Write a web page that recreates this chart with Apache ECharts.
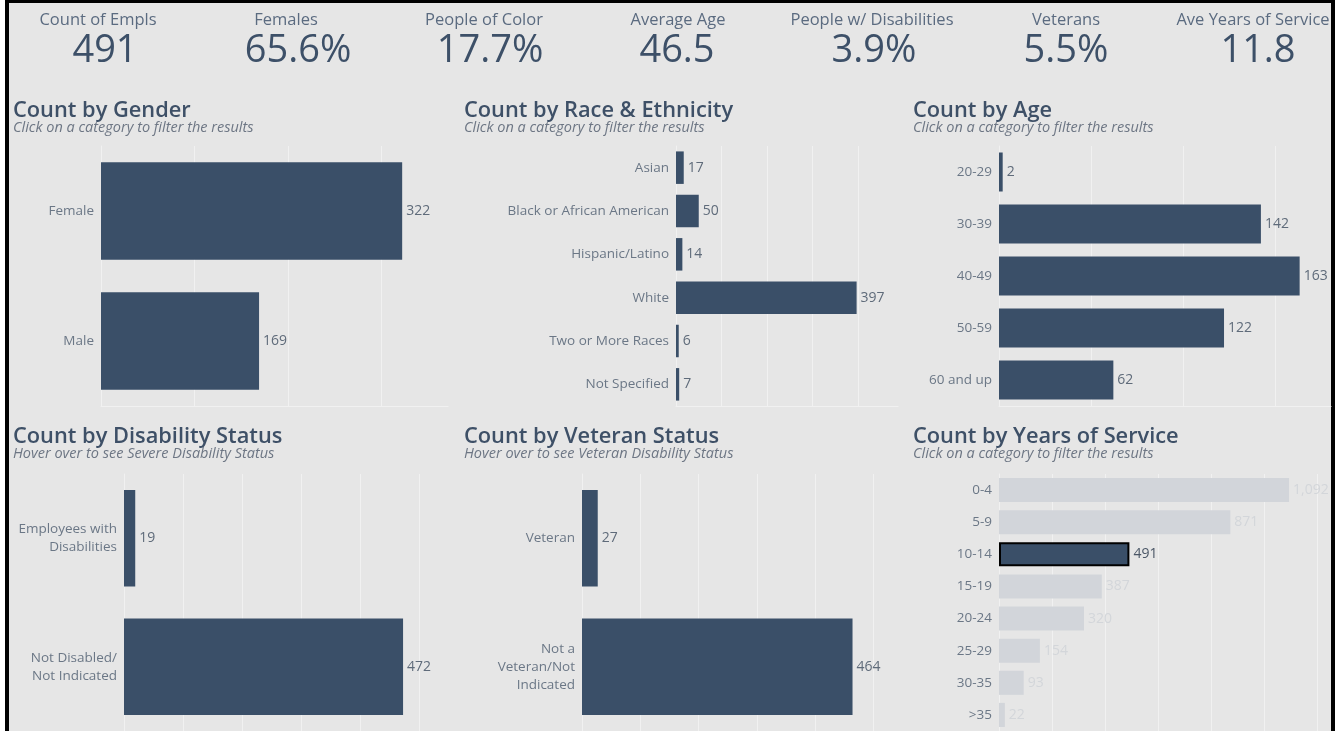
<!DOCTYPE html>
<html>
<head>
<meta charset="utf-8">
<script src="https://cdn.jsdelivr.net/npm/echarts@6/dist/echarts.min.js"></script>
<style>
  body { margin: 0; background: #fff; }
  #frame { position: absolute; left: 5px; top: -1px; width: 1322px; height: 800px; border: 4px solid #000; background: #e6e6e6; }
  #main { position: absolute; left: 0; top: 0; width: 1340px; height: 731px; }
</style>
</head>
<body>
<div id="frame"></div>
<div id="main"></div>
<script>
// KPI strip
const kpiLabels = ['Count of Empls', 'Females', 'People of Color', 'Average Age', 'People w/ Disabilities', 'Veterans', 'Ave Years of Service'];
const kpiValues = ['491', '65.6%', '17.7%', '46.5', '3.9%', '5.5%', '11.8'];

// panel data
const genderCats = ['Female', 'Male'];
const genderVals = [322, 169];
const raceCats = ['Asian', 'Black or African American', 'Hispanic/Latino', 'White', 'Two or More Races', 'Not Specified'];
const raceVals = [17, 50, 14, 397, 6, 7];
const ageCats = ['20-29', '30-39', '40-49', '50-59', '60 and up'];
const ageVals = [2, 142, 163, 122, 62];
const disCats = ['Employees with\nDisabilities', 'Not Disabled/\nNot Indicated'];
const disVals = [19, 472];
const vetCats = ['Veteran', 'Not a\nVeteran/Not\nIndicated'];
const vetVals = [27, 464];
const yosCats = ['0-4', '5-9', '10-14', '15-19', '20-24', '25-29', '30-35', '>35'];
const yosVals = [1092, 871, 491, 387, 320, 154, 93, 22];
const yosSelected = '10-14';

const font = '"Open Sans", sans-serif';
const barColor = '#3a4f68';
const gridColor = '#f1f1f1';
const labelColor = '#6b7786';
const clickSub = 'Click on a category to filter the results';

// where the KPI texts sit (centres)
const kpiLabelX = [98, 286, 484, 678, 872, 1066, 1253];
const kpiValueX = [105, 298, 490, 677, 874, 1066, 1258];

const panels = [
  { title: 'Count by Gender', sub: clickSub, tx: 13, ty: 111, cats: genderCats, vals: genderVals, left: 101, right: 448, top: 146, height: 260, max: 371, interval: 100 },
  { title: 'Count by Race & Ethnicity', sub: clickSub, tx: 464, ty: 111, cats: raceCats, vals: raceVals, left: 676, right: 898, top: 146, height: 260, max: 488, interval: 100 },
  { title: 'Count by Age', sub: clickSub, tx: 913, ty: 111, cats: ageCats, vals: ageVals, left: 999, right: 1331, top: 146, height: 260, max: 180, interval: 50 },
  { title: 'Count by Disability Status', sub: 'Hover over to see Severe Disability Status', tx: 13, ty: 437, cats: disCats, vals: disVals, left: 124, right: 448, top: 474, height: 261, max: 548, interval: 100 },
  { title: 'Count by Veteran Status', sub: 'Hover over to see Veteran Disability Status', tx: 464, ty: 437, cats: vetCats, vals: vetVals, left: 582, right: 898, top: 474, height: 261, max: 542, interval: 100 },
  { title: 'Count by Years of Service', sub: clickSub, tx: 913, ty: 437, cats: yosCats, vals: yosVals, left: 999, right: 1331, top: 474, height: 261, max: 1250, interval: 200, highlight: yosSelected }
];

const chart = echarts.init(document.getElementById('main'), null, { renderer: 'canvas' });

let graphic = [];
kpiLabels.forEach((name, i) => {
  graphic.push({ type: 'text', x: kpiLabelX[i], y: 20, style: { text: name, font: '16.5px ' + font, fill: '#5b6b80', textAlign: 'center', textVerticalAlign: 'middle' } });
  graphic.push({ type: 'text', x: kpiValueX[i], y: 51, style: { text: kpiValues[i], font: '38px ' + font, fill: '#3d5068', textAlign: 'center', textVerticalAlign: 'middle' } });
});

let grid = [], xAxis = [], yAxis = [], series = [];
panels.forEach((p, i) => {
  graphic.push({ type: 'text', x: p.tx, y: p.ty, style: { text: p.title, font: '600 21.8px ' + font, fill: '#3e5067', textVerticalAlign: 'middle' } });
  graphic.push({ type: 'text', x: p.tx, y: p.ty + 17, style: { text: p.sub, font: 'italic 14.5px ' + font, fill: '#6d7684', textVerticalAlign: 'middle' } });

  grid.push({ left: p.left, width: p.right - p.left, top: p.top, height: p.height });
  xAxis.push({
    type: 'value', gridIndex: i, min: 0, max: p.max, interval: p.interval,
    axisLabel: { show: false }, axisTick: { show: false },
    axisLine: { show: true, lineStyle: { color: gridColor } },
    splitLine: { show: true, showMinLine: false, showMaxLine: false, lineStyle: { color: gridColor } }
  });
  yAxis.push({
    type: 'category', gridIndex: i, inverse: true, data: p.cats,
    axisTick: { show: false },
    axisLine: { show: true, lineStyle: { color: gridColor } },
    axisLabel: { color: labelColor, fontFamily: font, fontSize: 13.5, margin: 7, lineHeight: 18 }
  });

  const data = p.vals.map((v, k) => {
    if (!p.highlight) return v;
    if (p.cats[k] === p.highlight) {
      return { value: v, itemStyle: { color: barColor, borderColor: '#000', borderWidth: 2 }, label: { color: '#4a5666' } };
    }
    return { value: v, itemStyle: { color: '#d2d5da' }, label: { color: '#d3d6da' } };
  });

  series.push({
    type: 'bar', xAxisIndex: i, yAxisIndex: i, data: data,
    barCategoryGap: '25%',
    itemStyle: { color: barColor },
    label: {
      show: true, position: 'right', distance: 4, color: '#5f6b7a', fontFamily: font, fontSize: 14,
      formatter: (q) => Number(q.value).toLocaleString('en-US')
    },
    silent: true
  });
});

let option = {
  backgroundColor: 'transparent',
  animation: false,
  graphic: graphic,
  grid: grid,
  xAxis: xAxis,
  yAxis: yAxis,
  series: series
};

option && chart.setOption(option);
</script>
</body>
</html>
